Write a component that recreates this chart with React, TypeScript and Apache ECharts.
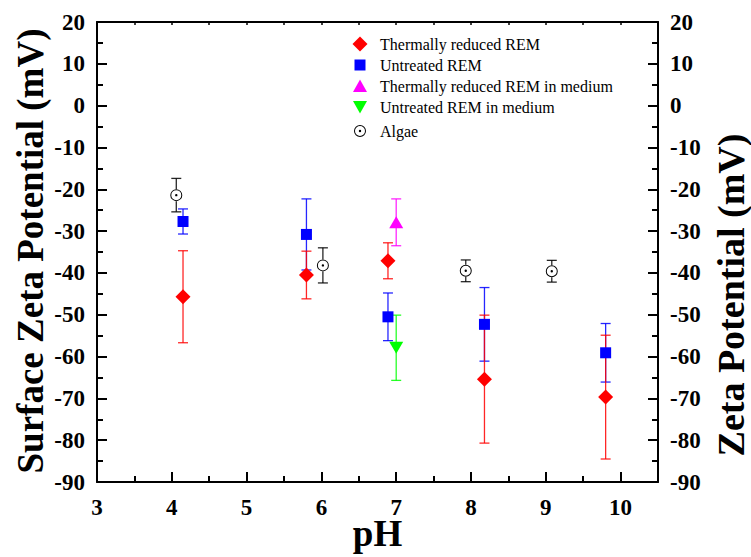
import React, { useEffect, useRef } from "react";
import * as echarts from "echarts";

// ---- data ----
const trPH = [4.15, 5.8, 6.89, 8.18, 9.8];
const trZeta = [-45.7, -40.5, -37.1, -65.4, -69.7];
const trErr = [11, 5.7, 4.3, 15.3, 14.8];

const utPH = [4.15, 5.8, 6.89, 8.18, 9.8];
const utZeta = [-27.7, -30.8, -50.5, -52.3, -59.1];
const utErr = [3, 8.5, 5.7, 8.8, 7];

const trMedPH = [7.0];
const trMedZeta = [-27.9];
const trMedErr = [5.6];

const utMedPH = [7.0];
const utMedZeta = [-57.9];
const utMedErr = [7.8];

const algaePH = [4.06, 6.02, 7.93, 9.08];
const algaeZeta = [-21.4, -38.2, -39.5, -39.6];
const algaeErr = [4, 4.2, 2.6, 2.6];

const seriesNames = [
  "Thermally reduced REM",
  "Untreated REM",
  "Thermally reduced REM in medium",
  "Untreated REM in medium",
  "Algae",
];

const FONT = "Liberation Serif";

const RING_DOT =
  "path://M8 2 A6 6 0 1 1 8 14 A6 6 0 1 1 8 2 Z M8 3 A5 5 0 1 0 8 13 A5 5 0 1 0 8 3 Z M8 6.8 A1.2 1.2 0 1 1 8 9.2 A1.2 1.2 0 1 1 8 6.8 Z";
const FRAME = "M0 0 L0 0 M16 16 L16 16 ";
const ICON_DIAMOND = "path://" + FRAME + "M8 0.5 L15.5 8 L8 15.5 L0.5 8 Z";
const ICON_SQUARE = "path://" + FRAME + "M2.5 2.5 L13.5 2.5 L13.5 13.5 L2.5 13.5 Z";
const ICON_UP = "path://" + FRAME + "M8 1.5 L15 14 L1 14 Z";
const ICON_DOWN = "path://" + FRAME + "M1 2 L15 2 L8 14.5 Z";
const ICON_ALGAE = "path://" + FRAME + "M8 2 A6 6 0 1 1 8 14 A6 6 0 1 1 8 2 Z M8 3 A5 5 0 1 0 8 13 A5 5 0 1 0 8 3 Z M8 6.8 A1.2 1.2 0 1 1 8 9.2 A1.2 1.2 0 1 1 8 6.8 Z";

function pts(xs: number[], ys: number[]) {
  return xs.map((x, i) => [x, ys[i]]);
}
function errData(xs: number[], ys: number[], es: number[]) {
  return xs.map((x, i) => [x, ys[i] - es[i], ys[i] + es[i], ys[i]]);
}

function errSeries(name: string, color: string, data: number[][], gap: number) {
  return {
    type: "custom",
    name,
    xAxisIndex: 0,
    yAxisIndex: 0,
    z: 2,
    silent: true,
    encode: { x: 0, y: [1, 2] },
    data,
    renderItem: (_params: any, api: any) => {
      const x = api.value(0);
      const lo = api.value(1);
      const hi = api.value(2);
      const yv = api.value(3);
      const pLo = api.coord([x, lo]);
      const pHi = api.coord([x, hi]);
      const pC = api.coord([x, yv]);
      const hw = 5;
      const style = { stroke: color, lineWidth: 1.3, opacity: 0.85 };
      const children: any[] = [];
      if (gap > 0) {
        children.push({ type: "line", shape: { x1: pHi[0], y1: pHi[1], x2: pC[0], y2: pC[1] - gap }, style });
        children.push({ type: "line", shape: { x1: pC[0], y1: pC[1] + gap, x2: pLo[0], y2: pLo[1] }, style });
      } else {
        children.push({ type: "line", shape: { x1: pHi[0], y1: pHi[1], x2: pLo[0], y2: pLo[1] }, style });
      }
      children.push({ type: "line", shape: { x1: pHi[0] - hw, y1: pHi[1], x2: pHi[0] + hw, y2: pHi[1] }, style });
      children.push({ type: "line", shape: { x1: pLo[0] - hw, y1: pLo[1], x2: pLo[0] + hw, y2: pLo[1] }, style });
      return { type: "group", children };
    },
  };
}

export default function App() {
  const ref = useRef<HTMLDivElement>(null);
  useEffect(() => {
    if (!ref.current) return;
    const chart = echarts.init(ref.current, null, { renderer: "svg" });
    const axisLine = { show: true, onZero: false, lineStyle: { color: "#000", width: 2 } };
    const tickLabel = { color: "#000", fontFamily: FONT, fontWeight: "bold", fontSize: 23 };
    const legendText = { fontFamily: FONT, fontSize: 16, lineHeight: 16, color: "#000", padding: [0, 0, 0, 7] };
    const yCommon = {
      type: "value",
      min: -90,
      max: 20,
      interval: 10,
      axisLine,
      axisTick: { show: true, inside: true, length: 10, lineStyle: { color: "#000", width: 2 } },
      minorTick: { show: true, splitNumber: 2, length: 6, lineStyle: { color: "#000", width: 2 } },
      splitLine: { show: false },
      axisLabel: { ...tickLabel, margin: 12 },
    };
    const option: any = {
      animation: false,
      backgroundColor: "#fff",
      textStyle: { fontFamily: FONT },
      grid: { left: 97, right: 93, top: 22, bottom: 75, containLabel: false, outerBoundsMode: "none" },
      legend: [
        {
          orient: "vertical",
          left: 347,
          top: 31,
          itemWidth: 16,
          itemHeight: 16,
          itemGap: 5,
          textStyle: legendText,
          data: [
            { name: seriesNames[0], icon: ICON_DIAMOND },
            { name: seriesNames[1], icon: ICON_SQUARE },
            { name: seriesNames[2], icon: ICON_UP },
            { name: seriesNames[3], icon: ICON_DOWN },
          ],
          selectedMode: false,
        },
        {
          orient: "vertical",
          left: 347,
          top: 118,
          itemWidth: 16,
          itemHeight: 16,
          textStyle: legendText,
          data: [{ name: seriesNames[4], icon: ICON_ALGAE }],
          selectedMode: false,
        },
      ],
      xAxis: [
        {
          type: "value",
          position: "bottom",
          min: 3,
          max: 10.5,
          interval: 1,
          axisLine,
          axisTick: { show: true, inside: true, length: 10, lineStyle: { color: "#000", width: 2 } },
          splitLine: { show: false },
          axisLabel: { ...tickLabel, lineHeight: 17, margin: 17, showMaxLabel: false },
          name: "pH",
          nameLocation: "middle",
          nameGap: 36.5,
          nameMoveOverlap: false,
          nameTextStyle: { fontFamily: FONT, fontWeight: "bold", fontSize: 37, lineHeight: 30, color: "#000" },
        },
        {
          type: "value",
          position: "bottom",
          min: 3,
          max: 10.5,
          interval: 0.5,
          axisLine: { show: false, onZero: false },
          axisTick: { show: true, inside: true, length: 6, lineStyle: { color: "#000", width: 2 } },
          splitLine: { show: false },
          axisLabel: { show: false },
        },
        {
          type: "value",
          position: "top",
          min: 3,
          max: 10.5,
          interval: 0.5,
          axisLine,
          axisTick: { show: true, inside: true, length: 3, lineStyle: { color: "#000", width: 1.5 } },
          splitLine: { show: false },
          axisLabel: { show: false },
        },
      ],
      yAxis: [
        { ...yCommon, position: "left" },
        { ...yCommon, position: "right" },
      ],
      graphic: [
        {
          type: "text",
          x: 30,
          y: 251,
          rotation: Math.PI / 2,
          style: {
            text: "Surface Zeta Potential (mV)",
            font: `bold 37px "${FONT}"`,
            fill: "#000",
            align: "center",
            verticalAlign: "middle",
          },
        },
        {
          type: "text",
          x: 731,
          y: 295,
          rotation: Math.PI / 2,
          style: {
            text: "Zeta Potential (mV)",
            font: `bold 38px "${FONT}"`,
            fill: "#000",
            align: "center",
            verticalAlign: "middle",
          },
        },
      ],
      series: [
        errSeries("err-ut", "#0000ff", errData(utPH, utZeta, utErr), 0),
        errSeries("err-tr", "#ff0000", errData(trPH, trZeta, trErr), 0),
        errSeries("err-trmed", "#ff00ff", errData(trMedPH, trMedZeta, trMedErr), 0),
        errSeries("err-utmed", "#00ff00", errData(utMedPH, utMedZeta, utMedErr), 0),
        errSeries("err-algae", "#000000", errData(algaePH, algaeZeta, algaeErr), 6),
        {
          type: "scatter",
          name: seriesNames[0],
          z: 3,
          symbol: "diamond",
          symbolSize: 15,
          itemStyle: { color: "#ff0000", opacity: 1 },
          data: pts(trPH, trZeta),
        },
        {
          type: "scatter",
          name: seriesNames[1],
          z: 3,
          symbol: "rect",
          symbolSize: 11,
          itemStyle: { color: "#0000ff", opacity: 1 },
          data: pts(utPH, utZeta),
        },
        {
          type: "scatter",
          name: seriesNames[2],
          z: 3,
          symbol: "triangle",
          symbolSize: [14, 12],
          itemStyle: { color: "#ff00ff", opacity: 1 },
          data: pts(trMedPH, trMedZeta),
        },
        {
          type: "scatter",
          name: seriesNames[3],
          z: 3,
          symbol: "triangle",
          symbolRotate: 180,
          symbolSize: [14, 12],
          itemStyle: { color: "#00ff00", opacity: 1 },
          data: pts(utMedPH, utMedZeta),
        },
        {
          type: "scatter",
          name: seriesNames[4],
          z: 3,
          symbol: RING_DOT,
          symbolSize: 12,
          itemStyle: { color: "#000000", opacity: 1 },
          data: pts(algaePH, algaeZeta),
        },
      ],
    };
    chart.setOption(option);
    return () => chart.dispose();
  }, []);
  return <div ref={ref} style={{ width: 751, height: 557, position: "absolute", left: 0, top: 0 }} />;
}
